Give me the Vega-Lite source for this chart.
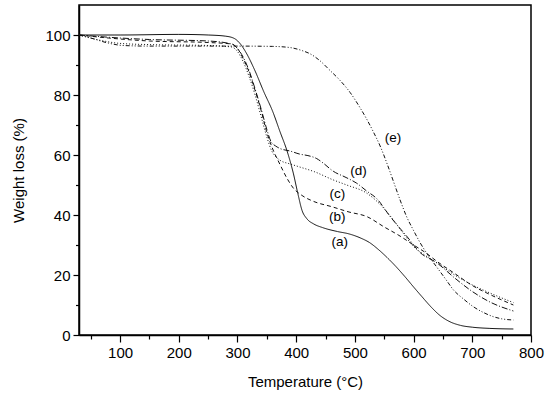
{
  "$schema": "https://vega.github.io/schema/vega-lite/v6.json",
  "width": 452,
  "height": 330,
  "autosize": {"type": "none"},
  "padding": {"left": 79, "top": 5, "right": 19, "bottom": 63},
  "background": "white",
  "config": {"view": {"stroke": "#000", "strokeWidth": 1.5}, "font": "Liberation Sans"},
  "resolve": {"axis": {"x": "independent", "y": "independent"}},
  "datasets": {
    "curves": [
      {"s":"a","t":30,"w":100},{"s":"a","t":100,"w":100},{"s":"a","t":200,"w":100.2},{"s":"a","t":250,"w":100},{"s":"a","t":280,"w":99.6},{"s":"a","t":295,"w":98.8},{"s":"a","t":305,"w":97},{"s":"a","t":315,"w":94},{"s":"a","t":330,"w":88},{"s":"a","t":345,"w":81},{"s":"a","t":360,"w":74.5},{"s":"a","t":372,"w":68},{"s":"a","t":385,"w":61},{"s":"a","t":395,"w":54},{"s":"a","t":403,"w":47},{"s":"a","t":410,"w":41.5},{"s":"a","t":418,"w":38.8},{"s":"a","t":430,"w":37},{"s":"a","t":445,"w":35.8},{"s":"a","t":470,"w":34.5},{"s":"a","t":490,"w":33.7},{"s":"a","t":510,"w":32.3},{"s":"a","t":525,"w":30.8},{"s":"a","t":540,"w":28.5},{"s":"a","t":555,"w":25.8},{"s":"a","t":570,"w":22.8},{"s":"a","t":585,"w":19.5},{"s":"a","t":600,"w":16},{"s":"a","t":615,"w":12.6},{"s":"a","t":630,"w":9.3},{"s":"a","t":645,"w":6.5},{"s":"a","t":660,"w":4.6},{"s":"a","t":680,"w":3.2},{"s":"a","t":700,"w":2.6},{"s":"a","t":730,"w":2.2},{"s":"a","t":770,"w":2.0},
      {"s":"b","t":30,"w":100},{"s":"b","t":80,"w":99},{"s":"b","t":150,"w":98},{"s":"b","t":250,"w":97.5},{"s":"b","t":290,"w":97},{"s":"b","t":300,"w":95.5},{"s":"b","t":310,"w":92},{"s":"b","t":320,"w":87.5},{"s":"b","t":330,"w":81.5},{"s":"b","t":340,"w":75},{"s":"b","t":350,"w":67.5},{"s":"b","t":360,"w":62},{"s":"b","t":372,"w":57},{"s":"b","t":385,"w":52},{"s":"b","t":395,"w":49},{"s":"b","t":410,"w":46.5},{"s":"b","t":430,"w":44.5},{"s":"b","t":460,"w":42.8},{"s":"b","t":490,"w":41},{"s":"b","t":520,"w":39.5},{"s":"b","t":550,"w":36},{"s":"b","t":575,"w":33.2},{"s":"b","t":600,"w":30},{"s":"b","t":620,"w":27.5},{"s":"b","t":640,"w":24.5},{"s":"b","t":670,"w":20.5},{"s":"b","t":700,"w":16.5},{"s":"b","t":730,"w":13.5},{"s":"b","t":770,"w":10},
      {"s":"c","t":30,"w":100},{"s":"c","t":60,"w":98.5},{"s":"c","t":100,"w":97.2},{"s":"c","t":150,"w":96.8},{"s":"c","t":250,"w":96.5},{"s":"c","t":290,"w":96},{"s":"c","t":300,"w":94.5},{"s":"c","t":310,"w":91},{"s":"c","t":320,"w":86},{"s":"c","t":330,"w":80},{"s":"c","t":340,"w":73},{"s":"c","t":350,"w":66},{"s":"c","t":358,"w":61.5},{"s":"c","t":365,"w":59.5},{"s":"c","t":372,"w":58.3},{"s":"c","t":390,"w":57},{"s":"c","t":406,"w":56},{"s":"c","t":430,"w":54.5},{"s":"c","t":463,"w":51.7},{"s":"c","t":486,"w":50},{"s":"c","t":520,"w":47.3},{"s":"c","t":548,"w":42.5},{"s":"c","t":565,"w":38.5},{"s":"c","t":582,"w":34},{"s":"c","t":600,"w":29.5},{"s":"c","t":620,"w":26.5},{"s":"c","t":640,"w":24},{"s":"c","t":670,"w":20},{"s":"c","t":700,"w":16.7},{"s":"c","t":730,"w":14},{"s":"c","t":770,"w":10.8},
      {"s":"d","t":30,"w":100},{"s":"d","t":100,"w":99},{"s":"d","t":150,"w":98.5},{"s":"d","t":250,"w":98},{"s":"d","t":290,"w":97},{"s":"d","t":300,"w":95.5},{"s":"d","t":310,"w":92.5},{"s":"d","t":320,"w":88},{"s":"d","t":330,"w":82},{"s":"d","t":340,"w":75.5},{"s":"d","t":350,"w":68.5},{"s":"d","t":357,"w":64.5},{"s":"d","t":365,"w":63},{"s":"d","t":372,"w":62.2},{"s":"d","t":390,"w":61.3},{"s":"d","t":406,"w":60.3},{"s":"d","t":420,"w":59.8},{"s":"d","t":435,"w":58.8},{"s":"d","t":446,"w":57.3},{"s":"d","t":463,"w":54.6},{"s":"d","t":485,"w":52.5},{"s":"d","t":503,"w":50.6},{"s":"d","t":520,"w":48},{"s":"d","t":537,"w":45.5},{"s":"d","t":560,"w":39.5},{"s":"d","t":577,"w":35.5},{"s":"d","t":588,"w":33},{"s":"d","t":611,"w":27.5},{"s":"d","t":640,"w":24},{"s":"d","t":670,"w":19},{"s":"d","t":700,"w":14.5},{"s":"d","t":730,"w":11},{"s":"d","t":770,"w":8},
      {"s":"e","t":30,"w":100},{"s":"e","t":50,"w":99},{"s":"e","t":80,"w":97.3},{"s":"e","t":105,"w":96.5},{"s":"e","t":150,"w":96.3},{"s":"e","t":250,"w":96.3},{"s":"e","t":300,"w":96.3},{"s":"e","t":360,"w":96.2},{"s":"e","t":390,"w":95.8},{"s":"e","t":410,"w":94.8},{"s":"e","t":423,"w":93.8},{"s":"e","t":440,"w":91.5},{"s":"e","t":457,"w":88.3},{"s":"e","t":475,"w":84.8},{"s":"e","t":492,"w":80.8},{"s":"e","t":508,"w":76},{"s":"e","t":520,"w":72},{"s":"e","t":532,"w":67.5},{"s":"e","t":543,"w":63},{"s":"e","t":555,"w":57},{"s":"e","t":566,"w":51},{"s":"e","t":577,"w":45},{"s":"e","t":588,"w":39.5},{"s":"e","t":600,"w":34.8},{"s":"e","t":611,"w":30.8},{"s":"e","t":625,"w":26.5},{"s":"e","t":640,"w":22.5},{"s":"e","t":655,"w":18.5},{"s":"e","t":668,"w":15},{"s":"e","t":685,"w":12},{"s":"e","t":702,"w":9.4},{"s":"e","t":720,"w":7.4},{"s":"e","t":736,"w":6.1},{"s":"e","t":750,"w":5.4},{"s":"e","t":770,"w":5}
    ],
    "labels": [
      {"t":474,"w":31,"label":"(a)"},
      {"t":470,"w":39.2,"label":"(b)"},
      {"t":470,"w":47,"label":"(c)"},
      {"t":506,"w":54.8,"label":"(d)"},
      {"t":565,"w":65.6,"label":"(e)"}
    ]
  },
  "layer": [
    {
      "data": {"name": "curves"},
      "mark": {"type": "line", "interpolate": "monotone", "strokeWidth": 1, "color": "#111"},
      "encoding": {
        "x": {
          "field": "t", "type": "quantitative",
          "scale": {"domain": [30, 800], "nice": false, "zero": false},
          "axis": {
            "orient": "bottom",
            "values": [100,200,300,400,500,600,700,800],
            "tickSize": 7,
            "grid": false, "domainColor": "#000", "domainWidth": 1.5, "tickColor": "#000", "tickWidth": 1.2,
            "labelFontSize": 15, "labelColor": "#000", "labelPadding": 3, "labelFlush": false, "labelOverlap": false,
            "labelFont": "Liberation Sans",
            "title": "Temperature (°C)", "titleFontSize": 15, "titleFontWeight": "normal", "titleColor": "#000",
            "titlePadding": 14, "titleFont": "Liberation Sans"
          }
        },
        "y": {
          "field": "w", "type": "quantitative",
          "scale": {"domain": [0, 110], "nice": false, "zero": false},
          "axis": {
            "orient": "left",
            "values": [0,20,40,60,80,100],
            "tickSize": 6,
            "grid": false, "domainColor": "#000", "domainWidth": 1.5, "tickColor": "#000", "tickWidth": 1.2,
            "labelFontSize": 15, "labelColor": "#000", "labelPadding": 3, "labelFlush": false, "labelOverlap": false,
            "labelFont": "Liberation Sans",
            "title": "Weight loss (%)", "titleFontSize": 15, "titleFontWeight": "normal", "titleColor": "#000",
            "titlePadding": 18, "titleFont": "Liberation Sans"
          }
        },
        "strokeDash": {
          "field": "s", "type": "nominal",
          "scale": {"domain": ["a","b","c","d","e"], "range": [[1,0],[4,3],[1,2],[6,2,1,2],[4,2,1,2,1,2]]},
          "legend": null
        }
      }
    },
    {
      "data": {"name": "labels"},
      "mark": {"type": "text", "fontSize": 13.5, "font": "Liberation Sans", "color": "#000"},
      "encoding": {
        "x": {
          "field": "t", "type": "quantitative",
          "axis": {
            "orient": "bottom",
            "values": [50,150,250,350,450,550,650,750],
            "tickSize": 4, "tickColor": "#000", "tickWidth": 1.2,
            "labels": false, "domain": false, "grid": false, "title": null
          }
        },
        "y": {
          "field": "w", "type": "quantitative",
          "axis": {
            "orient": "left",
            "values": [10,30,50,70,90],
            "tickSize": 3.5, "tickColor": "#000", "tickWidth": 1.2,
            "labels": false, "domain": false, "grid": false, "title": null
          }
        },
        "text": {"field": "label", "type": "nominal"}
      }
    }
  ]
}
